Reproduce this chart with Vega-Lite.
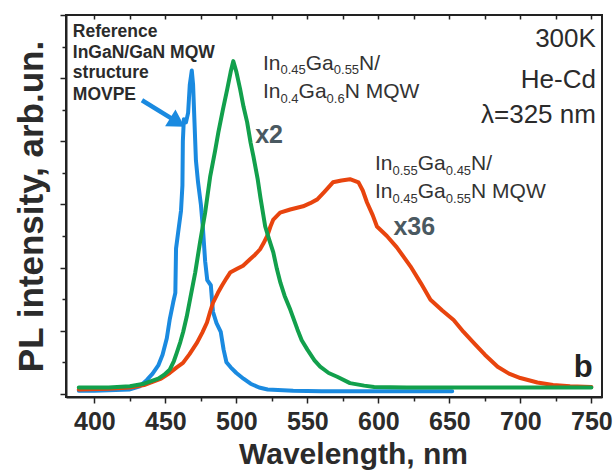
{
  "$schema": "https://vega.github.io/schema/vega-lite/v6.json",
  "width": 536,
  "height": 382,
  "autosize": {"type": "none"},
  "padding": {"left": 66, "top": 15, "right": 13, "bottom": 73},
  "background": "white",
  "config": {
    "view": {"stroke": "#222222", "strokeWidth": 2},
    "axis": {
      "grid": false,
      "domainColor": "#222222",
      "domainWidth": 2,
      "tickColor": "#222222",
      "tickWidth": 1.5,
      "labelFont": "Liberation Sans",
      "labelFontWeight": "bold",
      "labelFontSize": 25,
      "labelColor": "#2b2b2b",
      "titleFont": "Liberation Sans",
      "titleFontWeight": "bold",
      "titleColor": "#2b2b2b"
    }
  },
  "datasets": {
    "spectra": [
      {"s": "Reference MQW", "wl": 389, "I": 0.05},
      {"s": "Reference MQW", "wl": 400, "I": 0.05},
      {"s": "Reference MQW", "wl": 415, "I": 0.06},
      {"s": "Reference MQW", "wl": 425, "I": 0.07},
      {"s": "Reference MQW", "wl": 432, "I": 0.12},
      {"s": "Reference MQW", "wl": 437, "I": 0.22},
      {"s": "Reference MQW", "wl": 441, "I": 0.32},
      {"s": "Reference MQW", "wl": 445, "I": 0.45},
      {"s": "Reference MQW", "wl": 448, "I": 0.62},
      {"s": "Reference MQW", "wl": 451, "I": 0.88},
      {"s": "Reference MQW", "wl": 453, "I": 1.17},
      {"s": "Reference MQW", "wl": 455.5, "I": 1.45},
      {"s": "Reference MQW", "wl": 457, "I": 1.6},
      {"s": "Reference MQW", "wl": 457.5, "I": 2.3},
      {"s": "Reference MQW", "wl": 459, "I": 2.56},
      {"s": "Reference MQW", "wl": 461, "I": 2.9},
      {"s": "Reference MQW", "wl": 462, "I": 3.3},
      {"s": "Reference MQW", "wl": 462.3, "I": 4.0},
      {"s": "Reference MQW", "wl": 463, "I": 4.35},
      {"s": "Reference MQW", "wl": 464.5, "I": 4.3},
      {"s": "Reference MQW", "wl": 466, "I": 4.45},
      {"s": "Reference MQW", "wl": 467.2, "I": 4.9},
      {"s": "Reference MQW", "wl": 468.6, "I": 5.12},
      {"s": "Reference MQW", "wl": 469.5, "I": 4.9},
      {"s": "Reference MQW", "wl": 470.5, "I": 4.3},
      {"s": "Reference MQW", "wl": 471.5, "I": 3.7},
      {"s": "Reference MQW", "wl": 473, "I": 3.35},
      {"s": "Reference MQW", "wl": 475, "I": 3.0},
      {"s": "Reference MQW", "wl": 476.5, "I": 2.6},
      {"s": "Reference MQW", "wl": 478, "I": 2.1},
      {"s": "Reference MQW", "wl": 479.5, "I": 1.8},
      {"s": "Reference MQW", "wl": 482, "I": 1.72},
      {"s": "Reference MQW", "wl": 483.5, "I": 1.3},
      {"s": "Reference MQW", "wl": 486, "I": 1.12},
      {"s": "Reference MQW", "wl": 489, "I": 0.98},
      {"s": "Reference MQW", "wl": 491, "I": 0.7},
      {"s": "Reference MQW", "wl": 493, "I": 0.5},
      {"s": "Reference MQW", "wl": 496, "I": 0.42},
      {"s": "Reference MQW", "wl": 500, "I": 0.33},
      {"s": "Reference MQW", "wl": 505, "I": 0.24},
      {"s": "Reference MQW", "wl": 510, "I": 0.16},
      {"s": "Reference MQW", "wl": 516, "I": 0.1},
      {"s": "Reference MQW", "wl": 522, "I": 0.07},
      {"s": "Reference MQW", "wl": 540, "I": 0.05},
      {"s": "Reference MQW", "wl": 560, "I": 0.04},
      {"s": "Reference MQW", "wl": 600, "I": 0.04},
      {"s": "Reference MQW", "wl": 630, "I": 0.04},
      {"s": "Reference MQW", "wl": 652, "I": 0.04},

      {"s": "Sample 1 (x36)", "wl": 389, "I": 0.07},
      {"s": "Sample 1 (x36)", "wl": 410, "I": 0.08},
      {"s": "Sample 1 (x36)", "wl": 425, "I": 0.1},
      {"s": "Sample 1 (x36)", "wl": 435, "I": 0.14},
      {"s": "Sample 1 (x36)", "wl": 440, "I": 0.18},
      {"s": "Sample 1 (x36)", "wl": 447, "I": 0.24},
      {"s": "Sample 1 (x36)", "wl": 453, "I": 0.33},
      {"s": "Sample 1 (x36)", "wl": 458, "I": 0.42},
      {"s": "Sample 1 (x36)", "wl": 462.4, "I": 0.49},
      {"s": "Sample 1 (x36)", "wl": 467, "I": 0.63},
      {"s": "Sample 1 (x36)", "wl": 472.3, "I": 0.81},
      {"s": "Sample 1 (x36)", "wl": 476, "I": 0.97},
      {"s": "Sample 1 (x36)", "wl": 479.3, "I": 1.13},
      {"s": "Sample 1 (x36)", "wl": 481.5, "I": 1.3},
      {"s": "Sample 1 (x36)", "wl": 483.5, "I": 1.44},
      {"s": "Sample 1 (x36)", "wl": 487, "I": 1.6},
      {"s": "Sample 1 (x36)", "wl": 490, "I": 1.72},
      {"s": "Sample 1 (x36)", "wl": 493, "I": 1.83},
      {"s": "Sample 1 (x36)", "wl": 495.6, "I": 1.92},
      {"s": "Sample 1 (x36)", "wl": 500.5, "I": 1.98},
      {"s": "Sample 1 (x36)", "wl": 504.7, "I": 2.03},
      {"s": "Sample 1 (x36)", "wl": 509.6, "I": 2.13},
      {"s": "Sample 1 (x36)", "wl": 513, "I": 2.2},
      {"s": "Sample 1 (x36)", "wl": 516.7, "I": 2.29},
      {"s": "Sample 1 (x36)", "wl": 519, "I": 2.38},
      {"s": "Sample 1 (x36)", "wl": 521.7, "I": 2.5},
      {"s": "Sample 1 (x36)", "wl": 524, "I": 2.65},
      {"s": "Sample 1 (x36)", "wl": 526, "I": 2.76},
      {"s": "Sample 1 (x36)", "wl": 530.8, "I": 2.87},
      {"s": "Sample 1 (x36)", "wl": 537.9, "I": 2.92},
      {"s": "Sample 1 (x36)", "wl": 547, "I": 2.97},
      {"s": "Sample 1 (x36)", "wl": 552, "I": 3.02},
      {"s": "Sample 1 (x36)", "wl": 557, "I": 3.08},
      {"s": "Sample 1 (x36)", "wl": 562, "I": 3.2},
      {"s": "Sample 1 (x36)", "wl": 568, "I": 3.35},
      {"s": "Sample 1 (x36)", "wl": 574, "I": 3.38},
      {"s": "Sample 1 (x36)", "wl": 580, "I": 3.4},
      {"s": "Sample 1 (x36)", "wl": 586, "I": 3.35},
      {"s": "Sample 1 (x36)", "wl": 589, "I": 3.22},
      {"s": "Sample 1 (x36)", "wl": 592, "I": 3.03},
      {"s": "Sample 1 (x36)", "wl": 596, "I": 2.83},
      {"s": "Sample 1 (x36)", "wl": 599, "I": 2.65},
      {"s": "Sample 1 (x36)", "wl": 606, "I": 2.5},
      {"s": "Sample 1 (x36)", "wl": 613, "I": 2.32},
      {"s": "Sample 1 (x36)", "wl": 622.6, "I": 2.02},
      {"s": "Sample 1 (x36)", "wl": 630, "I": 1.75},
      {"s": "Sample 1 (x36)", "wl": 636.7, "I": 1.49},
      {"s": "Sample 1 (x36)", "wl": 645, "I": 1.32},
      {"s": "Sample 1 (x36)", "wl": 653, "I": 1.17},
      {"s": "Sample 1 (x36)", "wl": 660, "I": 0.98},
      {"s": "Sample 1 (x36)", "wl": 667, "I": 0.81},
      {"s": "Sample 1 (x36)", "wl": 675, "I": 0.62},
      {"s": "Sample 1 (x36)", "wl": 684, "I": 0.43},
      {"s": "Sample 1 (x36)", "wl": 692, "I": 0.32},
      {"s": "Sample 1 (x36)", "wl": 700, "I": 0.25},
      {"s": "Sample 1 (x36)", "wl": 712, "I": 0.18},
      {"s": "Sample 1 (x36)", "wl": 723, "I": 0.14},
      {"s": "Sample 1 (x36)", "wl": 735, "I": 0.12},
      {"s": "Sample 1 (x36)", "wl": 750, "I": 0.11},

      {"s": "Sample 2 (x2)", "wl": 389, "I": 0.1},
      {"s": "Sample 2 (x2)", "wl": 410, "I": 0.1},
      {"s": "Sample 2 (x2)", "wl": 425, "I": 0.12},
      {"s": "Sample 2 (x2)", "wl": 435, "I": 0.16},
      {"s": "Sample 2 (x2)", "wl": 440, "I": 0.2},
      {"s": "Sample 2 (x2)", "wl": 445, "I": 0.24},
      {"s": "Sample 2 (x2)", "wl": 449, "I": 0.3},
      {"s": "Sample 2 (x2)", "wl": 453, "I": 0.38},
      {"s": "Sample 2 (x2)", "wl": 456, "I": 0.52},
      {"s": "Sample 2 (x2)", "wl": 458, "I": 0.65},
      {"s": "Sample 2 (x2)", "wl": 460.5, "I": 0.82},
      {"s": "Sample 2 (x2)", "wl": 462.5, "I": 0.98},
      {"s": "Sample 2 (x2)", "wl": 465, "I": 1.22},
      {"s": "Sample 2 (x2)", "wl": 467.3, "I": 1.49},
      {"s": "Sample 2 (x2)", "wl": 471, "I": 1.92},
      {"s": "Sample 2 (x2)", "wl": 474.4, "I": 2.4},
      {"s": "Sample 2 (x2)", "wl": 478, "I": 2.87},
      {"s": "Sample 2 (x2)", "wl": 481.6, "I": 3.45},
      {"s": "Sample 2 (x2)", "wl": 485, "I": 3.85},
      {"s": "Sample 2 (x2)", "wl": 487.3, "I": 4.14},
      {"s": "Sample 2 (x2)", "wl": 490.5, "I": 4.5},
      {"s": "Sample 2 (x2)", "wl": 493.6, "I": 4.83},
      {"s": "Sample 2 (x2)", "wl": 496, "I": 5.1},
      {"s": "Sample 2 (x2)", "wl": 497.8, "I": 5.27},
      {"s": "Sample 2 (x2)", "wl": 500, "I": 5.1},
      {"s": "Sample 2 (x2)", "wl": 502.6, "I": 4.83},
      {"s": "Sample 2 (x2)", "wl": 505, "I": 4.55},
      {"s": "Sample 2 (x2)", "wl": 507.6, "I": 4.3},
      {"s": "Sample 2 (x2)", "wl": 510, "I": 3.98},
      {"s": "Sample 2 (x2)", "wl": 512, "I": 3.76},
      {"s": "Sample 2 (x2)", "wl": 515, "I": 3.4},
      {"s": "Sample 2 (x2)", "wl": 517, "I": 3.1},
      {"s": "Sample 2 (x2)", "wl": 520.3, "I": 2.65},
      {"s": "Sample 2 (x2)", "wl": 523, "I": 2.45},
      {"s": "Sample 2 (x2)", "wl": 526, "I": 2.24},
      {"s": "Sample 2 (x2)", "wl": 528.5, "I": 1.98},
      {"s": "Sample 2 (x2)", "wl": 531, "I": 1.76},
      {"s": "Sample 2 (x2)", "wl": 534, "I": 1.55},
      {"s": "Sample 2 (x2)", "wl": 538, "I": 1.33},
      {"s": "Sample 2 (x2)", "wl": 543, "I": 1.02},
      {"s": "Sample 2 (x2)", "wl": 546, "I": 0.85},
      {"s": "Sample 2 (x2)", "wl": 550, "I": 0.7},
      {"s": "Sample 2 (x2)", "wl": 555, "I": 0.53},
      {"s": "Sample 2 (x2)", "wl": 559, "I": 0.43},
      {"s": "Sample 2 (x2)", "wl": 565, "I": 0.33},
      {"s": "Sample 2 (x2)", "wl": 571, "I": 0.27},
      {"s": "Sample 2 (x2)", "wl": 580, "I": 0.17},
      {"s": "Sample 2 (x2)", "wl": 590, "I": 0.13},
      {"s": "Sample 2 (x2)", "wl": 597, "I": 0.11},
      {"s": "Sample 2 (x2)", "wl": 620, "I": 0.1},
      {"s": "Sample 2 (x2)", "wl": 650, "I": 0.1},
      {"s": "Sample 2 (x2)", "wl": 700, "I": 0.1},
      {"s": "Sample 2 (x2)", "wl": 750, "I": 0.1}
    ],
    "arrow": [{"wl": 433.5, "I": 4.65, "wl2": 456.5, "I2": 4.33}],
    "arrowHead": [{"wl": 458.5, "I": 4.3}],
    "refText": [
      {"wl": 384.8, "I": 5.73, "text": "Reference"},
      {"wl": 384.8, "I": 5.40, "text": "InGaN/GaN MQW"},
      {"wl": 384.8, "I": 5.08, "text": "structure"},
      {"wl": 384.8, "I": 4.73, "text": "MOVPE"}
    ],
    "mainText": [
      {"wl": 518.74, "I": 5.13, "text": "In"},
      {"wl": 548.88, "I": 5.13, "text": "Ga"},
      {"wl": 586.42, "I": 5.13, "text": "N/"},
      {"wl": 518.74, "I": 4.68, "text": "In"},
      {"wl": 543.81, "I": 4.68, "text": "Ga"},
      {"wl": 576.28, "I": 4.68, "text": "N MQW"},
      {"wl": 597.62, "I": 3.54, "text": "In"},
      {"wl": 627.76, "I": 3.54, "text": "Ga"},
      {"wl": 665.3, "I": 3.54, "text": "N/"},
      {"wl": 597.62, "I": 3.10, "text": "In"},
      {"wl": 627.76, "I": 3.10, "text": "Ga"},
      {"wl": 665.3, "I": 3.10, "text": "N MQW"}
    ],
    "subText": [
      {"wl": 531.07, "I": 5.06, "text": "0.45"},
      {"wl": 568.6, "I": 5.06, "text": "0.55"},
      {"wl": 531.07, "I": 4.61, "text": "0.4"},
      {"wl": 563.53, "I": 4.61, "text": "0.6"},
      {"wl": 609.95, "I": 3.47, "text": "0.55"},
      {"wl": 647.48, "I": 3.47, "text": "0.45"},
      {"wl": 609.95, "I": 3.03, "text": "0.45"},
      {"wl": 647.48, "I": 3.03, "text": "0.55"}
    ],
    "rightText": [
      {"wl": 753.2, "I": 5.49, "text": "300K"},
      {"wl": 753.2, "I": 4.84, "text": "He-Cd"},
      {"wl": 753.2, "I": 4.29, "text": "λ=325 nm"}
    ],
    "factorText": [
      {"wl": 513.2, "I": 3.97, "text": "x2"},
      {"wl": 610.6, "I": 2.52, "text": "x36"}
    ],
    "panelText": [{"wl": 737.6, "I": 0.27, "text": "b"}]
  },
  "layer": [
    {
      "data": {"name": "spectra"},
      "mark": {"type": "line", "strokeWidth": 4, "strokeJoin": "round", "strokeCap": "round"},
      "encoding": {
        "x": {
          "field": "wl", "type": "quantitative",
          "scale": {"domain": [380, 757.5], "nice": false, "zero": false},
          "axis": {
            "orient": "bottom",
            "values": [400, 450, 500, 550, 600, 650, 700, 750],
            "title": "Wavelength, nm",
            "titleFontSize": 30,
            "titlePadding": 5,
            "titleX": 287,
            "tickSize": 6,
            "labelPadding": 6,
            "labelFlush": false,
            "labelOverlap": false
          }
        },
        "y": {
          "field": "I", "type": "quantitative",
          "scale": {"domain": [-0.05, 6], "nice": false, "zero": false},
          "axis": {
            "orient": "left",
            "values": [0, 1, 2, 3, 4, 5, 6],
            "labels": false,
            "tickSize": 6,
            "title": "PL intensity, arb.un.",
            "titleFontSize": 35,
            "titlePadding": 10
          }
        },
        "color": {
          "field": "s", "type": "nominal",
          "scale": {"domain": ["Reference MQW", "Sample 1 (x36)", "Sample 2 (x2)"], "range": ["#1a8ae0", "#e8440e", "#12a04c"]},
          "legend": null
        }
      }
    },
    {
      "data": {"name": "arrow"},
      "mark": {"type": "rule", "color": "#1a8ae0", "strokeWidth": 4.5},
      "encoding": {
        "x": {
          "field": "wl", "type": "quantitative",
          "scale": {"domain": [380, 757.5], "nice": false, "zero": false},
          "axis": {"orient": "bottom", "values": [425, 475, 525, 575, 625, 675, 725], "labels": false, "domain": false, "tickSize": 4, "title": null}
        },
        "y": {
          "field": "I", "type": "quantitative",
          "scale": {"domain": [-0.05, 6], "nice": false, "zero": false},
          "axis": {"orient": "left", "values": [0.5, 1.5, 2.5, 3.5, 4.5, 5.5], "labels": false, "domain": false, "tickSize": 4, "title": null}
        },
        "x2": {"field": "wl2"},
        "y2": {"field": "I2"}
      }
    },
    {
      "data": {"name": "arrowHead"},
      "mark": {"type": "point", "shape": "triangle-right", "filled": true, "color": "#1a8ae0", "size": 380, "angle": 32, "opacity": 1},
      "encoding": {
        "x": {
          "field": "wl", "type": "quantitative",
          "scale": {"domain": [380, 757.5], "nice": false, "zero": false},
          "axis": {"orient": "top", "values": [400, 425, 450, 475, 500, 525, 550, 575, 600, 625, 650, 675, 700, 725, 750], "labels": false, "domain": false, "tickSize": -4, "title": null}
        },
        "y": {
          "field": "I", "type": "quantitative",
          "scale": {"domain": [-0.05, 6], "nice": false, "zero": false},
          "axis": null
        }
      }
    },
    {
      "data": {"name": "refText"},
      "mark": {"type": "text", "align": "left", "baseline": "middle", "font": "Liberation Sans", "fontWeight": "bold", "fontSize": 17.5, "color": "#2b2b2b"},
      "encoding": {
        "x": {"field": "wl", "type": "quantitative", "axis": null},
        "y": {"field": "I", "type": "quantitative", "axis": null},
        "text": {"field": "text"}
      }
    },
    {
      "data": {"name": "mainText"},
      "mark": {"type": "text", "align": "left", "baseline": "alphabetic", "font": "Liberation Sans", "fontSize": 21, "color": "#333333"},
      "encoding": {
        "x": {"field": "wl", "type": "quantitative", "axis": null},
        "y": {"field": "I", "type": "quantitative", "axis": null},
        "text": {"field": "text"}
      }
    },
    {
      "data": {"name": "subText"},
      "mark": {"type": "text", "align": "left", "baseline": "alphabetic", "font": "Liberation Sans", "fontSize": 13, "color": "#333333"},
      "encoding": {
        "x": {"field": "wl", "type": "quantitative", "axis": null},
        "y": {"field": "I", "type": "quantitative", "axis": null},
        "text": {"field": "text"}
      }
    },
    {
      "data": {"name": "rightText"},
      "mark": {"type": "text", "align": "right", "baseline": "alphabetic", "font": "Liberation Sans", "fontSize": 26, "color": "#2b2b2b"},
      "encoding": {
        "x": {"field": "wl", "type": "quantitative", "axis": null},
        "y": {"field": "I", "type": "quantitative", "axis": null},
        "text": {"field": "text"}
      }
    },
    {
      "data": {"name": "factorText"},
      "mark": {"type": "text", "align": "left", "baseline": "alphabetic", "font": "Liberation Sans", "fontWeight": "bold", "fontSize": 25, "color": "#4a5961"},
      "encoding": {
        "x": {"field": "wl", "type": "quantitative", "axis": null},
        "y": {"field": "I", "type": "quantitative", "axis": null},
        "text": {"field": "text"}
      }
    },
    {
      "data": {"name": "panelText"},
      "mark": {"type": "text", "align": "left", "baseline": "alphabetic", "font": "Liberation Sans", "fontWeight": "bold", "fontSize": 31, "color": "#222222"},
      "encoding": {
        "x": {"field": "wl", "type": "quantitative", "axis": null},
        "y": {"field": "I", "type": "quantitative", "axis": null},
        "text": {"field": "text"}
      }
    }
  ],
  "resolve": {"axis": {"x": "independent", "y": "independent"}}
}
